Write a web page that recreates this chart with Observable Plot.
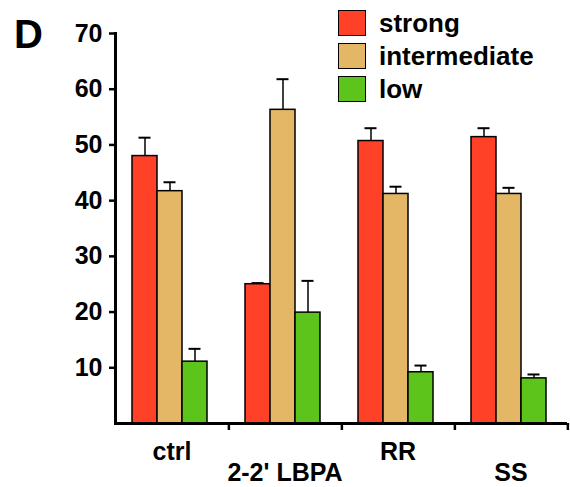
<!DOCTYPE html>
<html><head><meta charset="utf-8">
<script src="https://cdn.jsdelivr.net/npm/d3@7"></script>
<script src="https://cdn.jsdelivr.net/npm/@observablehq/plot@0.6"></script>
<style>
body{margin:0;background:#fff;}
#wrap{position:relative;width:570px;height:487px;font-family:"Liberation Sans",Arial,sans-serif;font-weight:bold;color:#000;}
#panel{position:absolute;left:14px;top:14px;font-size:40px;line-height:1;}
#legend{position:absolute;left:338px;top:9px;}
.li{display:flex;align-items:center;height:27px;margin-bottom:6px;}
.sw{width:26px;height:24px;border:1.5px solid #000;margin-right:13px;}
.lt{font-size:26px;line-height:1;}
</style></head><body><div id="wrap"></div>
<script>
const groups = ["ctrl", "2-2' LBPA", "RR", "SS"];
const series = ["strong", "intermediate", "low"];
const colors = ["#ff4128", "#e3b766", "#5cc41a"];
const strong = [48.0, 25.0, 50.7, 51.4];
const strongErr = [3.3, 0.2, 2.3, 1.6];
const intermediate = [41.7, 56.3, 41.2, 41.2];
const intermediateErr = [1.6, 5.5, 1.3, 1.1];
const low = [11.1, 19.9, 9.2, 8.1];
const lowErr = [2.3, 5.7, 1.2, 0.7];
const yTicks = [10, 20, 30, 40, 50, 60, 70];

const vals = {strong, intermediate, low};
const errs = {strong: strongErr, intermediate: intermediateErr, low: lowErr};
const rows = [];
groups.forEach((g, i) => series.forEach(s => rows.push({group: g, series: s, value: vals[s][i], err: errs[s][i]})));

const W = 570, H = 487, mL = 113, mR = 2, mT = 33, mB = 64;
const bw = (W - mL - mR) / groups.length;

const chart = Plot.plot({
  width: W, height: H,
  marginLeft: mL, marginRight: mR, marginTop: mT, marginBottom: mB,
  style: {fontFamily: '"Liberation Sans", Arial, sans-serif', fontWeight: "bold", fontSize: "24px", color: "#000", background: "#fff", overflow: "visible"},
  fx: {domain: groups, padding: 0, label: null},
  x: {domain: series, paddingInner: 0, paddingOuter: 0.7, align: 0.45, axis: null},
  y: {domain: [0, 70], label: null},
  color: {domain: series, range: colors},
  marks: [
    Plot.ruleX(rows, {fx: "group", x: "series", y1: "value", y2: d => d.value + d.err, stroke: "#000", strokeWidth: 1.5}),
    Plot.tickY(rows, {fx: "group", x: "series", y: d => d.value + d.err, stroke: "#000", strokeWidth: 2, inset: 6.5}),
    Plot.barY(rows, {fx: "group", x: "series", y: "value", fill: "series", stroke: "#000", strokeWidth: 1.5}),
    Plot.ruleY([0], {stroke: "#000", strokeWidth: 3}),
    Plot.frame({anchor: "left", facetAnchor: "left", stroke: "#000", strokeWidth: 3}),
    Plot.axisY({ticks: yTicks, tickSize: 6, tickPadding: 7, strokeWidth: 2.5, fontSize: 25, label: null}),
    Plot.axisFx({anchor: "bottom", ticks: ["ctrl", "RR"], tickSize: 0, tickPadding: 19, fontSize: 25, label: null}),
    Plot.axisFx({anchor: "bottom", ticks: ["2-2' LBPA", "SS"], tickSize: 0, tickPadding: 40, fontSize: 25, label: null}),
    Plot.axisFx({anchor: "bottom", ticks: groups, text: null, tickSize: 7, dx: bw / 2, strokeWidth: 2.5, label: null})
  ]
});

const wrap = document.getElementById("wrap");
wrap.appendChild(chart);
const panel = document.createElement("div");
panel.id = "panel"; panel.textContent = "D";
wrap.appendChild(panel);
const legend = document.createElement("div");
legend.id = "legend";
series.forEach((s, i) => {
  const li = document.createElement("div"); li.className = "li";
  const sw = document.createElement("div"); sw.className = "sw"; sw.style.background = colors[i];
  const lt = document.createElement("span"); lt.className = "lt"; lt.textContent = s;
  li.appendChild(sw); li.appendChild(lt); legend.appendChild(li);
});
wrap.appendChild(legend);
</script></body></html>
